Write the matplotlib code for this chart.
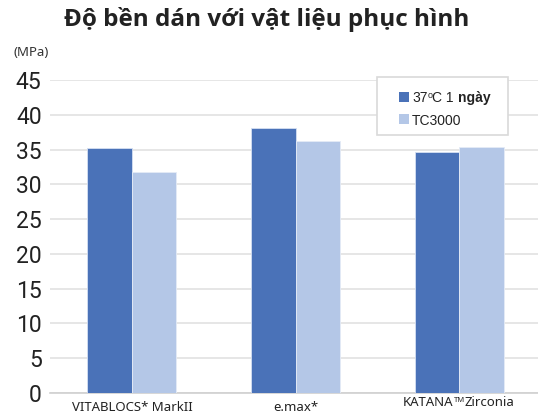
import matplotlib
matplotlib.use("Agg")
import matplotlib.pyplot as plt
import numpy as np
from matplotlib.patches import Rectangle

categories = ["VITABLOCS* MarkII", "e.max*", "KATANA™Zirconia"]
series_37c = [35.2, 38.1, 34.6]
series_tc = [31.8, 36.3, 35.4]
yticks = [0, 5, 10, 15, 20, 25, 30, 35, 40, 45]

dark = "#4A72B8"
light = "#B4C7E7"

W, H = 538, 417
fig = plt.figure(figsize=(W/100, H/100), dpi=100)
ax = fig.add_axes([50/W, 1-393/H, 488/W, (393-80)/H])

x = np.arange(len(categories))
bw = 0.272
ax.bar(x - bw/2, series_37c, bw, color=dark, edgecolor="#D6E0F2", linewidth=0.6, zorder=3)
ax.bar(x + bw/2, series_tc, bw, color=light, edgecolor="#E4EBF6", linewidth=0.6, zorder=3)

ax.set_xlim(-0.5, 2.48)
ax.set_ylim(0, 45)
ax.set_yticks(yticks)
ax.set_yticklabels([str(v) for v in yticks], fontfamily="Roboto", fontstretch="condensed",
                   fontsize=16.5, color="#222222")
ax.yaxis.grid(True, color="#E2E2E2", linewidth=1.2, zorder=0)
ax.tick_params(axis="y", length=0, pad=6)
ax.tick_params(axis="x", length=0, pad=6)
ax.set_xticks(x)
ax.set_xticklabels([categories[0], categories[1], ""], fontfamily="Noto Sans", fontsize=9.5,
                   color="#222222")
for s in ["top", "right", "left"]:
    ax.spines[s].set_visible(False)
ax.spines["bottom"].set_color("#D0D0D0")
ax.spines["bottom"].set_linewidth(1.2)

fig.text(267/W, 1-20/H, "Độ bền dán với vật liệu phục hình", fontfamily="Open Sans",
         fontweight="bold", fontsize=17.5, ha="center", va="center", color="#222222")
fig.text(13/W, 1-52/H, "(MPa)", fontfamily="Noto Sans", fontsize=9.5, ha="left", va="center", color="#333333")

# legend box
fig.patches.append(Rectangle((377/W, 1-135/H), 131/W, 58/H, transform=fig.transFigure,
                             facecolor="white", edgecolor="#D9D9D9", linewidth=1.2, zorder=5))
fig.patches.append(Rectangle((399/W, 1-102/H), 10/W, 10/H, transform=fig.transFigure,
                             facecolor=dark, edgecolor="none", zorder=6))
fig.patches.append(Rectangle((399/W, 1-124/H), 10/W, 10/H, transform=fig.transFigure,
                             facecolor=light, edgecolor="none", zorder=6))

renderer = fig.canvas.get_renderer()
def seq(parts, x0, y0, center=False):
    texts = []
    for txt, kw, dy in parts:
        t = fig.text(0, 0, txt, ha="left", va="baseline", zorder=7, color="#222222", **kw)
        texts.append((t, dy, t.get_window_extent(renderer).width))
    total = sum(w for _, _, w in texts)
    xx = x0 - total/2 if center else x0
    for t, dy, w in texts:
        t.set_position((xx/W, 1-(y0+dy)/H))
        xx += w

base = dict(fontfamily="Liberation Sans", fontsize=10)
seq([("37", base, 0), ("o", dict(fontfamily="Liberation Sans", fontsize=6.5), -4),
     ("C 1 ", base, 0), ("ngày", dict(fontfamily="Liberation Sans", fontsize=10, fontweight="bold"), 0)],
    412, 102)
seq([("TC3000", base, 0)], 412, 125)

lab = dict(fontfamily="Noto Sans", fontsize=9.5)
seq([("KATANA", lab, 0), ("TM", dict(fontfamily="Noto Sans", fontsize=5.5), -4),
     ("Zirconia", lab, 0)], 459, 406, center=True)

fig.savefig("out.png", dpi=100)
